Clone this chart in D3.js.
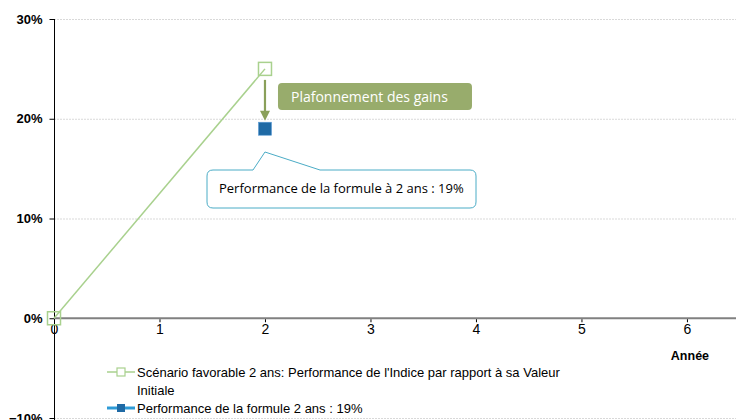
<!DOCTYPE html>
<html>
<head>
<meta charset="utf-8">
<script src="https://cdn.jsdelivr.net/npm/d3@7"></script>
<style>
  body { margin: 0; background: #fff; }
  svg { display: block; font-family: "Liberation Sans", Arial, sans-serif; }
</style>
</head>
<body>
<div id="chart"></div>
<script>
// data
var years = [0, 2];
var scenarioValues = [0, 0.25];
var formuleYears = [2];
var formuleValues = [0.19];
var yTicks = [-0.1, 0, 0.1, 0.2, 0.3];
var xTicks = [0, 1, 2, 3, 4, 5, 6];
var legendLabels = [
    ["Scénario favorable 2 ans: Performance de l'Indice par rapport à sa Valeur", "Initiale"],
    ["Performance de la formule 2 ans : 19%"]
];
var capLabel = "Plafonnement des gains";
var calloutLabel = "Performance de la formule à 2 ans : 19%";

function base(){
    var w = 736;
    var h = 420;

    var x = d3.scaleLinear().domain([0, 6.465]).range([54, 736]);
    var y = d3.scaleLinear().domain([-0.1, 0.3]).range([418, 19]);

    var svg = d3.select("#chart")
        .append("svg")
        .attr("width", w)
        .attr("height", h);

    //gridlines
    svg.append("g")
        .selectAll("line")
        .data(yTicks.filter(function(d){ return d != 0; }))
        .enter()
        .append("line")
        .attr("x1", x(0))
        .attr("x2", w)
        .attr("y1", function(d){ return y(d) + 0.5; })
        .attr("y2", function(d){ return y(d) + 0.5; })
        .attr("stroke", "#d9d9d9")
        .attr("stroke-dasharray", "2,1");

    //y axis
    var yAxis = d3.axisLeft(y)
        .tickValues(yTicks)
        .tickSize(5)
        .tickFormat(d3.format(".0%"));
    var gy = svg.append("g")
        .attr("transform", "translate(" + (x(0) + 0.5) + ",0)")
        .call(yAxis);
    gy.select(".domain").attr("stroke", "#000").attr("d", "M0," + y(0.3) + "V" + h);
    gy.selectAll(".tick line").attr("stroke", "#000");
    gy.selectAll(".tick text")
        .attr("x", -12)
        .attr("font-size", 13)
        .attr("font-weight", "bold")
        .attr("fill", "#000")
        .attr("font-family", "Liberation Sans, Arial, sans-serif");

    //x axis
    var xAxis = d3.axisBottom(x)
        .tickValues(xTicks)
        .tickSize(4)
        .tickFormat(d3.format("d"));
    var gx = svg.append("g")
        .attr("transform", "translate(0," + y(0) + ")")
        .call(xAxis);
    gx.select(".domain").attr("stroke", "#808080").attr("stroke-width", 2.2).attr("d", "M" + x(0) + ",0H" + w);
    gx.selectAll(".tick line").attr("stroke", "#000").attr("y1", 1);
    gx.selectAll(".tick text")
        .attr("y", 6)
        .attr("font-size", 14)
        .attr("fill", "#000")
        .attr("font-family", "Liberation Sans, Arial, sans-serif");

    svg.append("text")
        .attr("x", x(6) + 3)
        .attr("y", 360)
        .attr("text-anchor", "middle")
        .attr("font-size", 12.5)
        .attr("font-weight", "bold")
        .text("Année");

    //scenario line
    var line = d3.line()
        .x(function(d){ return x(d[0]); })
        .y(function(d){ return y(d[1]); });
    var scenario = d3.zip(years, scenarioValues);

    svg.append("path")
        .datum(scenario)
        .attr("fill", "none")
        .attr("stroke", "#a9d18e")
        .attr("stroke-width", 1.5)
        .attr("d", line);

    svg.selectAll("rect.scen")
        .data(scenario)
        .enter()
        .append("rect")
        .attr("class", "scen")
        .attr("x", function(d){ return x(d[0]) - 6.5; })
        .attr("y", function(d){ return y(d[1]) - 6.5; })
        .attr("width", 13)
        .attr("height", 13)
        .attr("fill", "none")
        .attr("stroke", "#a9d18e")
        .attr("stroke-width", 1.5);

    //formule point
    var formule = d3.zip(formuleYears, formuleValues);
    svg.selectAll("rect.form")
        .data(formule)
        .enter()
        .append("rect")
        .attr("class", "form")
        .attr("x", function(d){ return x(d[0]) - 6.5; })
        .attr("y", function(d){ return y(d[1]) - 6.5; })
        .attr("width", 13)
        .attr("height", 13)
        .attr("fill", "#1f6aa5")
        .attr("stroke", "#5b9bd5")
        .attr("stroke-width", 0.6);

    //arrow (cap)
    var ax = x(2);
    var ay1 = y(0.25) + 11;
    var ay2 = y(0.19) - 8;
    svg.append("line")
        .attr("x1", ax).attr("x2", ax)
        .attr("y1", ay1).attr("y2", ay2 - 8)
        .attr("stroke", "#8aa05a")
        .attr("stroke-width", 2.2);
    svg.append("path")
        .attr("d", "M" + (ax - 5) + "," + (ay2 - 10) + "L" + (ax + 5) + "," + (ay2 - 10) + "L" + ax + "," + ay2 + "Z")
        .attr("fill", "#8aa05a");

    //green label
    var cap = svg.append("g");
    cap.append("rect")
        .attr("x", x(2) + 13)
        .attr("y", 83)
        .attr("width", 194)
        .attr("height", 27)
        .attr("rx", 4)
        .attr("fill", "#98ac6c");
    cap.append("text")
        .attr("x", x(2) + 26)
        .attr("y", 102)
        .attr("font-family", "Open Sans, sans-serif")
        .attr("font-size", 14)
        .attr("fill", "#fff")
        .text(capLabel);

    //callout
    var px = x(2);
    var cy = 170;
    svg.append("path")
        .attr("d", "M" + 213 + "," + cy +
            "L253," + cy + "L" + px + ",152L320," + cy +
            "L470," + cy + "Q476," + cy + " 476," + (cy + 6) +
            "L476,202Q476,208 470,208" +
            "L213,208Q207,208 207,202" +
            "L207," + (cy + 6) + "Q207," + cy + " 213," + cy + "Z")
        .attr("fill", "#fff")
        .attr("stroke", "#4bacc6")
        .attr("stroke-width", 1);
    svg.append("text")
        .attr("x", 219)
        .attr("y", 193)
        .attr("font-family", "Open Sans, sans-serif")
        .attr("font-size", 13)
        .attr("fill", "#000")
        .text(calloutLabel);

    //legend
    var leg = svg.append("g").attr("font-size", 13).attr("fill", "#000");
    leg.append("line")
        .attr("x1", 107).attr("x2", 135)
        .attr("y1", 372).attr("y2", 372)
        .attr("stroke", "#a9d18e").attr("stroke-width", 1.5);
    leg.append("rect")
        .attr("x", 117).attr("y", 368).attr("width", 8).attr("height", 8)
        .attr("fill", "#fff").attr("stroke", "#a9d18e").attr("stroke-width", 1.2);
    leg.append("text")
        .attr("x", 137).attr("y", 377)
        .text(legendLabels[0][0]);
    leg.append("text")
        .attr("x", 137).attr("y", 395)
        .text(legendLabels[0][1]);

    leg.append("line")
        .attr("x1", 107).attr("x2", 135)
        .attr("y1", 408).attr("y2", 408)
        .attr("stroke", "#2e9bd6").attr("stroke-width", 3);
    leg.append("rect")
        .attr("x", 117).attr("y", 404).attr("width", 8).attr("height", 8)
        .attr("fill", "#1f6aa5");
    leg.append("text")
        .attr("x", 137).attr("y", 413)
        .text(legendLabels[1][0]);
}

window.onload = base;
</script>
</body>
</html>
